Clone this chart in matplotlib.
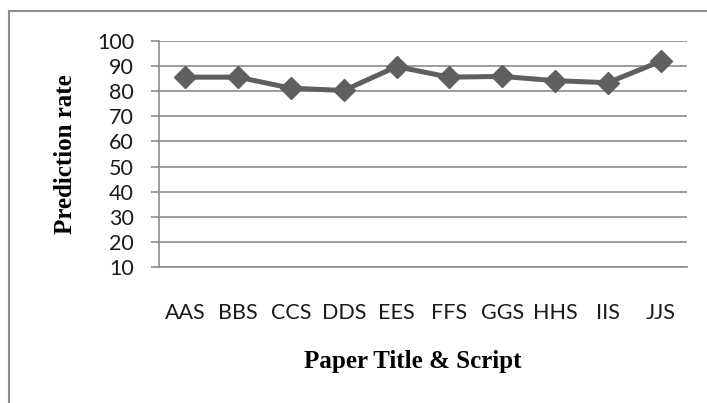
import matplotlib.pyplot as plt
from matplotlib.patches import Rectangle

# prediction rate per paper title / script
scripts = ['AAS', 'BBS', 'CCS', 'DDS', 'EES', 'FFS', 'GGS', 'HHS', 'IIS', 'JJS']
rates = [85.6, 85.6, 81.2, 80.3, 89.8, 85.6, 85.9, 84.2, 83.4, 91.9]
yticks = [10, 20, 30, 40, 50, 60, 70, 80, 90, 100]

fig = plt.figure(figsize=(7.07, 4.03), dpi=100)
ax = fig.add_axes([159 / 707, 1 - 267 / 403, 528 / 707, 226 / 403])

grid_color = '#8c8c8c'
line_color = '#5f5f5f'

x = range(len(scripts))
ax.plot(x, rates, color=line_color, linewidth=3.6, marker='D', markersize=11.5,
        markerfacecolor=line_color, markeredgecolor=line_color, zorder=3)

ax.set_xlim(-0.5, len(scripts) - 0.5)
ax.set_ylim(10, 100)
ax.set_yticks(yticks)
ax.set_xticks(list(x))
ax.set_xticklabels(scripts)

ax.yaxis.grid(True, color=grid_color, linewidth=1.2)
ax.set_axisbelow(True)
for side in ['top', 'right']:
    ax.spines[side].set_visible(False)
for side in ['left', 'bottom']:
    ax.spines[side].set_color(grid_color)
    ax.spines[side].set_linewidth(1.2)

ax.tick_params(axis='y', length=6, width=1.2, color=grid_color, pad=12,
               labelsize=15.5, labelcolor='#1a1a1a')
ax.tick_params(axis='x', length=0, pad=26, labelsize=15.5, labelcolor='#1a1a1a')
for lab in ax.get_xticklabels() + ax.get_yticklabels():
    lab.set_family('Lato')

ax.set_xlabel('Paper Title & Script', family='Liberation Serif', fontweight='bold',
              fontsize=18)
ax.set_ylabel('Prediction rate', family='Liberation Serif', fontweight='bold',
              fontsize=18)
ax.xaxis.set_label_coords(0.48, -0.42)
ax.yaxis.set_label_coords(-0.178, 0.5)
ax.xaxis.label.set_verticalalignment('center')
ax.yaxis.label.set_verticalalignment('center')

# chart frame
fig.patches.append(Rectangle((9 / 707, -0.1), 1.2, 1.1 - 11 / 403,
                             transform=fig.transFigure, fill=False,
                             edgecolor='#8c8c8c', linewidth=1.5))

fig.savefig('out.png', dpi=100)
